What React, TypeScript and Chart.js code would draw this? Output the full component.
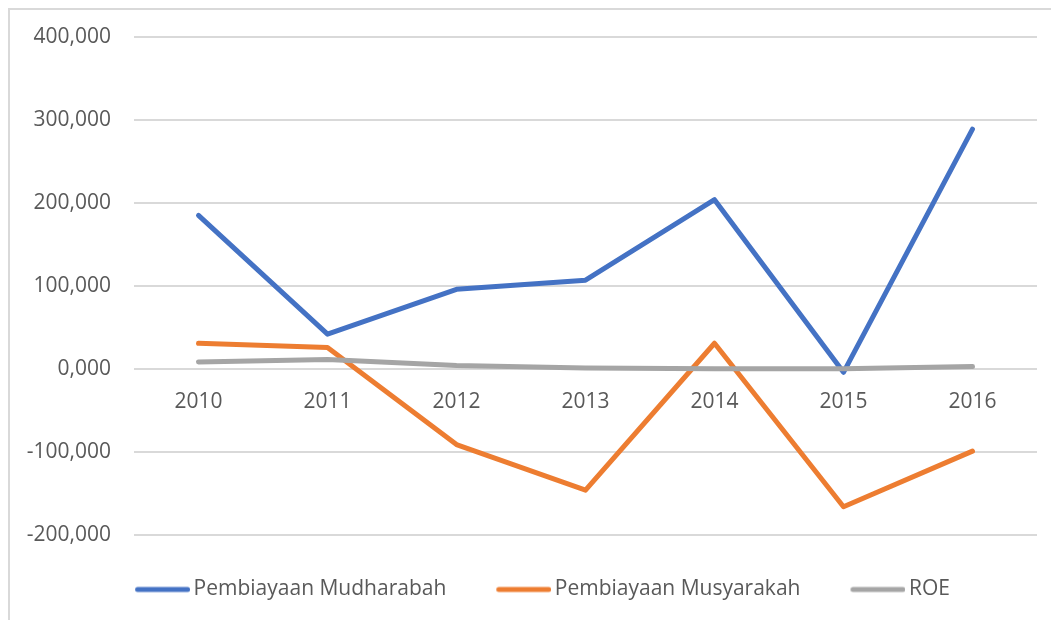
import React, { useEffect, useRef } from "react";
import { Chart, registerables } from "chart.js";

Chart.register(...registerables);

const years = ["2010", "2011", "2012", "2013", "2014", "2015", "2016"];
const mudharabah = [185000, 42000, 96000, 107000, 204000, -4000, 289000];
const musyarakah = [31000, 26000, -91000, -146000, 31000, -166000, -99000];
const roe = [8500, 11400, 4100, 1200, 300, 200, 2900];
const seriesNames = ["Pembiayaan Mudharabah", "Pembiayaan Musyarakah", "ROE"];
const seriesColors = ["#4472C4", "#ED7D31", "#A5A5A5"];

const FONT = "'Open Sans', 'DejaVu Sans', sans-serif";

const legendShift = {
  id: "legendShift",
  afterLayout(chart: any) {
    const l = chart.legend;
    if (!l) return;
    l.top -= 6;
    l.bottom -= 6;
    l.left += 19;
    l.right += 19;
  },
};

function makeLegendLine(color: string): HTMLCanvasElement {
  const c = document.createElement("canvas");
  c.width = 62;
  c.height = 8;
  const ctx = c.getContext("2d");
  if (ctx) {
    ctx.strokeStyle = color;
    ctx.lineWidth = 5;
    ctx.lineCap = "round";
    ctx.beginPath();
    ctx.moveTo(9.5, 4);
    ctx.lineTo(59.5, 4);
    ctx.stroke();
  }
  return c;
}

export default function App() {
  const canvasRef = useRef<HTMLCanvasElement | null>(null);

  useEffect(() => {
    const canvas = canvasRef.current;
    if (!canvas) return;
    const mk = (i: number, data: number[], order: number) => ({
      label: seriesNames[i],
      data,
      borderColor: seriesColors[i],
      backgroundColor: seriesColors[i],
      borderWidth: 5,
      pointRadius: 0,
      pointHoverRadius: 0,
      pointStyle: makeLegendLine(seriesColors[i]),
      fill: false,
      tension: 0,
      borderJoinStyle: "round" as const,
      borderCapStyle: "round" as const,
      order,
    });
    const chart = new Chart(canvas, {
      type: "line",
      data: {
        labels: years,
        datasets: [mk(0, mudharabah, 2), mk(1, musyarakah, 1), mk(2, roe, 0)],
      },
      options: {
        animation: false,
        responsive: false,
        maintainAspectRatio: false,
        layout: { padding: { top: 27, right: 14, bottom: 4, left: 0 } },
        plugins: {
          tooltip: { enabled: false },
          legend: {
            position: "bottom",
            labels: {
              usePointStyle: true,
              pointStyleWidth: 48,
              boxHeight: 8,
              padding: 50,
              color: "#595959",
              font: { family: FONT, size: 21 },
              sort: (a: any, b: any) => a.datasetIndex - b.datasetIndex,
            },
          },
        },
        scales: {
          x: {
            type: "category",
            position: { y: 0 } as any,
            offset: true,
            grid: { display: false },
            border: { display: false },
            ticks: {
              color: "#595959",
              font: { family: FONT, size: 21 },
              padding: 12,
              maxRotation: 0,
            },
          },
          y: {
            min: -200000,
            max: 400000,
            afterFit: (scale: any) => {
              scale.width = 124;
            },
            grid: {
              color: "#d9d9d9",
              lineWidth: 2,
              drawTicks: true,
              tickLength: 20,
              tickColor: "rgba(0,0,0,0)",
            },
            border: { display: false },
            ticks: {
              stepSize: 100000,
              padding: 3,
              color: "#595959",
              font: { family: FONT, size: 21 },
              callback: (v: any) => {
                const n = Number(v);
                if (n === 0) return "0,000";
                return n.toLocaleString("en-US");
              },
            },
          },
        },
      },
      plugins: [legendShift],
    });
    return () => chart.destroy();
  }, []);

  return (
    <div
      style={{
        width: 1041,
        height: 612,
        borderTop: "2px solid #d9d9d9",
        borderLeft: "2px solid #d9d9d9",
        overflow: "hidden",
        background: "#fff",
      }}
    >
      <canvas ref={canvasRef} width={1041} height={610} style={{ display: "block" }} />
    </div>
  );
}
